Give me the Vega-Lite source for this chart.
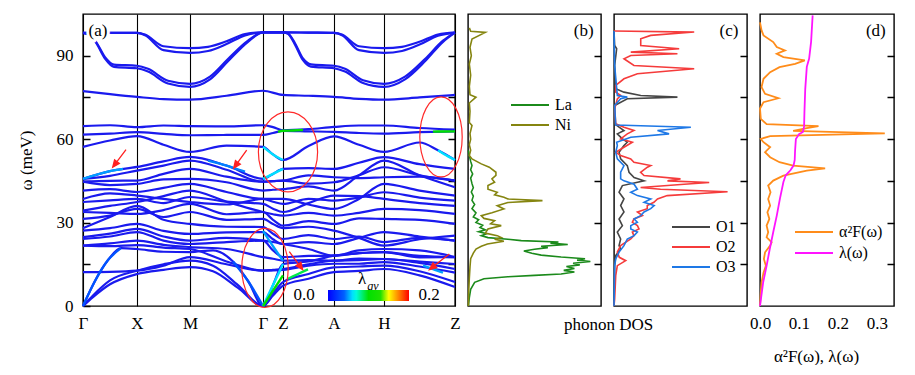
{
"$schema":"https://vega.github.io/schema/vega-lite/v6.json",
"padding":{"left":16,"top":11,"right":0,"bottom":0},
"spacing":13,
"bounds":"flush",
"config":{
"font":"Liberation Serif, DejaVu Serif, serif",
"view":{"stroke":"#000","strokeWidth":1.4},
"axis":{"labelFont":"Liberation Serif, DejaVu Serif, serif","titleFont":"Liberation Serif, DejaVu Serif, serif","labelColor":"#000","titleColor":"#000","tickColor":"#000","titleFontWeight":"normal","labelFontSize":17,"titleFontSize":17},
"legend":{"labelFont":"Liberation Serif, DejaVu Serif, serif","labelFontSize":16,"labelColor":"#000"},
"text":{"font":"Liberation Serif, DejaVu Serif, serif","color":"#000"}
},
"resolve":{"scale":{"color":"independent","shape":"independent"},"legend":{"color":"independent"}},
"datasets":{
"bands":[
{"b":"T1","k":0,"e":98.2},{"b":"T1","k":0.27,"e":98.2},{"b":"T1","k":0.54,"e":98.2},{"b":"T1","k":0.62,"e":97.6},{"b":"T1","k":0.805,"e":93.4},{"b":"T1","k":1.07,"e":92.7},{"b":"T1","k":1.25,"e":93.2},{"b":"T1","k":1.435,"e":95.2},{"b":"T1","k":1.62,"e":97.8},{"b":"T1","k":1.8,"e":98.4},{"b":"T1","k":2.0,"e":98.4},{"b":"T1","k":2.255,"e":98.3},{"b":"T1","k":2.51,"e":98.2},{"b":"T1","k":2.59,"e":97.6},{"b":"T1","k":2.76,"e":93.4},{"b":"T1","k":3.01,"e":92.7},{"b":"T1","k":3.19,"e":93.2},{"b":"T1","k":3.365,"e":95.0},{"b":"T1","k":3.55,"e":97.6},{"b":"T1","k":3.72,"e":98.4},
{"b":"T2","k":0,"e":98.2},{"b":"T2","k":0.27,"e":98.2},{"b":"T2","k":0.54,"e":98.2},{"b":"T2","k":0.62,"e":97.4},{"b":"T2","k":0.805,"e":92.0},{"b":"T2","k":1.07,"e":91.0},{"b":"T2","k":1.25,"e":91.7},{"b":"T2","k":1.435,"e":94.2},{"b":"T2","k":1.62,"e":97.3},{"b":"T2","k":1.8,"e":98.4},{"b":"T2","k":2.0,"e":98.4},{"b":"T2","k":2.255,"e":98.3},{"b":"T2","k":2.51,"e":98.2},{"b":"T2","k":2.59,"e":97.4},{"b":"T2","k":2.76,"e":92.0},{"b":"T2","k":3.01,"e":91.0},{"b":"T2","k":3.19,"e":91.7},{"b":"T2","k":3.365,"e":94.0},{"b":"T2","k":3.55,"e":97.2},{"b":"T2","k":3.72,"e":98.2},
{"b":"T3","k":0,"e":98.2},{"b":"T3","k":0.07,"e":97.3},{"b":"T3","k":0.13,"e":95.0},{"b":"T3","k":0.22,"e":89.5},{"b":"T3","k":0.31,"e":86.8},{"b":"T3","k":0.54,"e":86.4},{"b":"T3","k":0.65,"e":85.3},{"b":"T3","k":0.85,"e":81.0},{"b":"T3","k":1.07,"e":79.9},{"b":"T3","k":1.27,"e":82.5},{"b":"T3","k":1.45,"e":88.8},{"b":"T3","k":1.65,"e":95.4},{"b":"T3","k":1.8,"e":98.4},{"b":"T3","k":2.0,"e":98.4},{"b":"T3","k":2.05,"e":98.0},{"b":"T3","k":2.12,"e":94.5},{"b":"T3","k":2.2,"e":89.0},{"b":"T3","k":2.28,"e":86.9},{"b":"T3","k":2.51,"e":86.4},{"b":"T3","k":2.62,"e":85.3},{"b":"T3","k":2.8,"e":81.2},{"b":"T3","k":3.01,"e":79.9},{"b":"T3","k":3.22,"e":82.5},{"b":"T3","k":3.42,"e":88.8},{"b":"T3","k":3.6,"e":95.4},{"b":"T3","k":3.72,"e":98.4},
{"b":"T4","k":0,"e":98.2},{"b":"T4","k":0.07,"e":97.2},{"b":"T4","k":0.13,"e":94.7},{"b":"T4","k":0.22,"e":89.0},{"b":"T4","k":0.31,"e":86.0},{"b":"T4","k":0.54,"e":85.5},{"b":"T4","k":0.65,"e":84.3},{"b":"T4","k":0.85,"e":80.0},{"b":"T4","k":1.07,"e":78.8},{"b":"T4","k":1.27,"e":81.5},{"b":"T4","k":1.45,"e":88.0},{"b":"T4","k":1.65,"e":95.0},{"b":"T4","k":1.8,"e":98.4},{"b":"T4","k":2.0,"e":98.4},{"b":"T4","k":2.05,"e":97.9},{"b":"T4","k":2.12,"e":94.0},{"b":"T4","k":2.2,"e":88.4},{"b":"T4","k":2.28,"e":86.1},{"b":"T4","k":2.51,"e":85.5},{"b":"T4","k":2.62,"e":84.3},{"b":"T4","k":2.8,"e":80.2},{"b":"T4","k":3.01,"e":78.8},{"b":"T4","k":3.22,"e":81.5},{"b":"T4","k":3.42,"e":88.0},{"b":"T4","k":3.6,"e":95.0},{"b":"T4","k":3.72,"e":98.3},
{"b":"B77","k":0,"e":77.3},{"b":"B77","k":0.27,"e":76.2},{"b":"B77","k":0.54,"e":75.2},{"b":"B77","k":0.805,"e":74.4},{"b":"B77","k":1.07,"e":74.2},{"b":"B77","k":1.435,"e":75.6},{"b":"B77","k":1.8,"e":77.4},{"b":"B77","k":2.0,"e":75.9},{"b":"B77","k":2.255,"e":75.6},{"b":"B77","k":2.51,"e":75.2},{"b":"B77","k":2.76,"e":74.5},{"b":"B77","k":3.01,"e":74.2},{"b":"B77","k":3.365,"e":75.0},{"b":"B77","k":3.72,"e":75.9},
{"b":"C1","k":0,"e":64.7},{"b":"C1","k":0.27,"e":65.0},{"b":"C1","k":0.54,"e":64.3},{"b":"C1","k":0.805,"e":64.9},{"b":"C1","k":1.07,"e":64.7},{"b":"C1","k":1.435,"e":64.6},{"b":"C1","k":1.8,"e":65.0},{"b":"C1","k":1.9,"e":64.3},{"b":"C1","k":2.0,"e":63.2},{"b":"C1","k":2.255,"e":63.6},{"b":"C1","k":2.51,"e":64.4},{"b":"C1","k":2.76,"e":64.9},{"b":"C1","k":3.01,"e":64.9},{"b":"C1","k":3.365,"e":64.0},{"b":"C1","k":3.72,"e":63.4},
{"b":"C2","k":0,"e":61.6},{"b":"C2","k":0.27,"e":62.0},{"b":"C2","k":0.54,"e":62.5},{"b":"C2","k":0.805,"e":61.9},{"b":"C2","k":1.07,"e":61.4},{"b":"C2","k":1.435,"e":61.5},{"b":"C2","k":1.8,"e":61.5},{"b":"C2","k":1.9,"e":62.2},{"b":"C2","k":2.0,"e":63.0},{"b":"C2","k":2.255,"e":62.8},{"b":"C2","k":2.51,"e":62.6},{"b":"C2","k":2.76,"e":62.2},{"b":"C2","k":3.01,"e":62.0},{"b":"C2","k":3.365,"e":62.5},{"b":"C2","k":3.72,"e":62.8},
{"b":"C3","k":0,"e":57.2},{"b":"C3","k":0.27,"e":59.5},{"b":"C3","k":0.54,"e":61.1},{"b":"C3","k":0.805,"e":58.0},{"b":"C3","k":1.07,"e":55.4},{"b":"C3","k":1.435,"e":57.7},{"b":"C3","k":1.8,"e":57.2},{"b":"C3","k":1.9,"e":54.5},{"b":"C3","k":2.0,"e":52.5},{"b":"C3","k":2.255,"e":57.5},{"b":"C3","k":2.51,"e":61.0},{"b":"C3","k":2.76,"e":58.0},{"b":"C3","k":3.01,"e":55.4},{"b":"C3","k":3.365,"e":58.8},{"b":"C3","k":3.55,"e":56.0},{"b":"C3","k":3.72,"e":52.5},
{"b":"D1","k":0,"e":45.7},{"b":"D1","k":0.27,"e":48.5},{"b":"D1","k":0.54,"e":50.0},{"b":"D1","k":0.805,"e":52.0},{"b":"D1","k":1.07,"e":53.6},{"b":"D1","k":1.435,"e":50.5},{"b":"D1","k":1.8,"e":45.7},{"b":"D1","k":1.9,"e":47.5},{"b":"D1","k":2.0,"e":49.3},{"b":"D1","k":2.255,"e":49.6},{"b":"D1","k":2.51,"e":49.3},{"b":"D1","k":2.76,"e":51.5},{"b":"D1","k":3.01,"e":53.5},{"b":"D1","k":3.365,"e":51.0},{"b":"D1","k":3.72,"e":49.3},
{"b":"D2","k":0,"e":45.7},{"b":"D2","k":0.27,"e":46.8},{"b":"D2","k":0.54,"e":48.7},{"b":"D2","k":0.805,"e":50.5},{"b":"D2","k":1.07,"e":52.3},{"b":"D2","k":1.435,"e":49.0},{"b":"D2","k":1.8,"e":44.7},{"b":"D2","k":1.9,"e":44.9},{"b":"D2","k":2.0,"e":45.1},{"b":"D2","k":2.255,"e":47.0},{"b":"D2","k":2.51,"e":46.3},{"b":"D2","k":2.76,"e":46.0},{"b":"D2","k":3.01,"e":46.3},{"b":"D2","k":3.365,"e":46.5},{"b":"D2","k":3.72,"e":45.1},
{"b":"D3","k":0,"e":44.7},{"b":"D3","k":0.27,"e":45.0},{"b":"D3","k":0.54,"e":45.1},{"b":"D3","k":0.805,"e":47.5},{"b":"D3","k":1.07,"e":49.3},{"b":"D3","k":1.435,"e":46.5},{"b":"D3","k":1.8,"e":44.7},{"b":"D3","k":1.9,"e":44.9},{"b":"D3","k":2.0,"e":45.1},{"b":"D3","k":2.255,"e":44.0},{"b":"D3","k":2.51,"e":44.5},{"b":"D3","k":2.76,"e":47.0},{"b":"D3","k":3.01,"e":49.9},{"b":"D3","k":3.365,"e":47.0},{"b":"D3","k":3.72,"e":45.1},
{"b":"D4","k":0,"e":44.7},{"b":"D4","k":0.27,"e":43.5},{"b":"D4","k":0.54,"e":43.9},{"b":"D4","k":0.805,"e":45.5},{"b":"D4","k":1.07,"e":45.7},{"b":"D4","k":1.435,"e":44.5},{"b":"D4","k":1.8,"e":41.5},{"b":"D4","k":1.9,"e":41.8},{"b":"D4","k":2.0,"e":42.0},{"b":"D4","k":2.255,"e":43.0},{"b":"D4","k":2.51,"e":41.5},{"b":"D4","k":2.76,"e":47.0},{"b":"D4","k":3.01,"e":52.3},{"b":"D4","k":3.365,"e":47.0},{"b":"D4","k":3.72,"e":42.7},
{"b":"D5","k":0,"e":41.5},{"b":"D5","k":0.27,"e":42.0},{"b":"D5","k":0.54,"e":41.0},{"b":"D5","k":0.805,"e":42.5},{"b":"D5","k":1.07,"e":43.9},{"b":"D5","k":1.435,"e":41.0},{"b":"D5","k":1.8,"e":38.5},{"b":"D5","k":1.9,"e":38.5},{"b":"D5","k":2.0,"e":38.5},{"b":"D5","k":2.255,"e":36.5},{"b":"D5","k":2.51,"e":34.9},{"b":"D5","k":2.76,"e":38.5},{"b":"D5","k":3.01,"e":43.9},{"b":"D5","k":3.365,"e":41.5},{"b":"D5","k":3.72,"e":39.7},
{"b":"D6","k":0,"e":38.5},{"b":"D6","k":0.27,"e":40.5},{"b":"D6","k":0.54,"e":39.7},{"b":"D6","k":0.805,"e":38.5},{"b":"D6","k":1.07,"e":37.4},{"b":"D6","k":1.435,"e":36.5},{"b":"D6","k":1.8,"e":38.5},{"b":"D6","k":1.9,"e":37.5},{"b":"D6","k":2.0,"e":36.7},{"b":"D6","k":2.255,"e":38.5},{"b":"D6","k":2.51,"e":37.9},{"b":"D6","k":2.76,"e":39.0},{"b":"D6","k":3.01,"e":40.9},{"b":"D6","k":3.365,"e":39.0},{"b":"D6","k":3.72,"e":37.9},
{"b":"D7","k":0,"e":37.4},{"b":"D7","k":0.27,"e":38.0},{"b":"D7","k":0.54,"e":38.5},{"b":"D7","k":0.805,"e":37.0},{"b":"D7","k":1.07,"e":39.2},{"b":"D7","k":1.435,"e":37.5},{"b":"D7","k":1.8,"e":36.7},{"b":"D7","k":1.9,"e":35.0},{"b":"D7","k":2.0,"e":33.8},{"b":"D7","k":2.255,"e":37.0},{"b":"D7","k":2.51,"e":39.7},{"b":"D7","k":2.76,"e":39.5},{"b":"D7","k":3.01,"e":38.5},{"b":"D7","k":3.365,"e":37.0},{"b":"D7","k":3.72,"e":36.0},
{"b":"D8","k":0,"e":34.3},{"b":"D8","k":0.27,"e":36.0},{"b":"D8","k":0.54,"e":37.4},{"b":"D8","k":0.805,"e":39.5},{"b":"D8","k":1.07,"e":41.5},{"b":"D8","k":1.435,"e":37.5},{"b":"D8","k":1.8,"e":33.8},{"b":"D8","k":1.9,"e":33.0},{"b":"D8","k":2.0,"e":32.5},{"b":"D8","k":2.255,"e":33.5},{"b":"D8","k":2.51,"e":32.5},{"b":"D8","k":2.76,"e":33.5},{"b":"D8","k":3.01,"e":34.9},{"b":"D8","k":3.365,"e":34.5},{"b":"D8","k":3.72,"e":33.1},
{"b":"D9","k":0,"e":33.8},{"b":"D9","k":0.27,"e":33.5},{"b":"D9","k":0.54,"e":33.1},{"b":"D9","k":0.805,"e":34.5},{"b":"D9","k":1.07,"e":36.7},{"b":"D9","k":1.435,"e":33.0},{"b":"D9","k":1.8,"e":33.8},{"b":"D9","k":1.9,"e":31.0},{"b":"D9","k":2.0,"e":28.9},{"b":"D9","k":2.255,"e":30.5},{"b":"D9","k":2.51,"e":29.5},{"b":"D9","k":2.76,"e":31.5},{"b":"D9","k":3.01,"e":31.3},{"b":"D9","k":3.365,"e":31.0},{"b":"D9","k":3.72,"e":29.5},
{"b":"D10","k":0,"e":31.3},{"b":"D10","k":0.27,"e":32.5},{"b":"D10","k":0.54,"e":34.9},{"b":"D10","k":0.805,"e":32.0},{"b":"D10","k":1.07,"e":33.8},{"b":"D10","k":1.435,"e":31.0},{"b":"D10","k":1.8,"e":31.3},{"b":"D10","k":1.9,"e":29.5},{"b":"D10","k":2.0,"e":28.0},{"b":"D10","k":2.255,"e":28.5},{"b":"D10","k":2.51,"e":27.1},{"b":"D10","k":2.76,"e":24.5},{"b":"D10","k":3.01,"e":21.7},{"b":"D10","k":3.365,"e":24.0},{"b":"D10","k":3.72,"e":25.3},
{"b":"D11","k":0,"e":28.0},{"b":"D11","k":0.27,"e":32.0},{"b":"D11","k":0.54,"e":36.0},{"b":"D11","k":0.805,"e":31.0},{"b":"D11","k":1.07,"e":29.5},{"b":"D11","k":1.435,"e":28.5},{"b":"D11","k":1.8,"e":28.4},{"b":"D11","k":1.9,"e":26.0},{"b":"D11","k":2.0,"e":24.1},{"b":"D11","k":2.255,"e":25.5},{"b":"D11","k":2.51,"e":24.1},{"b":"D11","k":2.76,"e":25.0},{"b":"D11","k":3.01,"e":23.0},{"b":"D11","k":3.365,"e":24.5},{"b":"D11","k":3.72,"e":23.5},
{"b":"D12","k":0,"e":27.1},{"b":"D12","k":0.27,"e":28.0},{"b":"D12","k":0.54,"e":29.5},{"b":"D12","k":0.805,"e":27.0},{"b":"D12","k":1.07,"e":25.9},{"b":"D12","k":1.435,"e":26.5},{"b":"D12","k":1.8,"e":26.6},{"b":"D12","k":1.9,"e":24.0},{"b":"D12","k":2.0,"e":22.3},{"b":"D12","k":2.255,"e":23.0},{"b":"D12","k":2.51,"e":22.3},{"b":"D12","k":2.76,"e":24.5},{"b":"D12","k":3.01,"e":26.6},{"b":"D12","k":3.365,"e":25.0},{"b":"D12","k":3.72,"e":23.5},
{"b":"D13","k":0,"e":24.8},{"b":"D13","k":0.27,"e":26.0},{"b":"D13","k":0.54,"e":27.7},{"b":"D13","k":0.805,"e":25.0},{"b":"D13","k":1.07,"e":23.5},{"b":"D13","k":1.435,"e":24.5},{"b":"D13","k":1.8,"e":23.5},{"b":"D13","k":1.9,"e":23.0},{"b":"D13","k":2.0,"e":22.3},{"b":"D13","k":2.255,"e":20.5},{"b":"D13","k":2.51,"e":18.1},{"b":"D13","k":2.76,"e":20.0},{"b":"D13","k":3.01,"e":20.5},{"b":"D13","k":3.365,"e":20.0},{"b":"D13","k":3.72,"e":17.6},
{"b":"D14","k":0,"e":24.1},{"b":"D14","k":0.27,"e":25.0},{"b":"D14","k":0.54,"e":26.6},{"b":"D14","k":0.805,"e":23.5},{"b":"D14","k":1.07,"e":22.3},{"b":"D14","k":1.435,"e":23.0},{"b":"D14","k":1.8,"e":23.5},{"b":"D14","k":1.9,"e":20.0},{"b":"D14","k":2.0,"e":17.6},{"b":"D14","k":2.255,"e":18.0},{"b":"D14","k":2.51,"e":18.1},{"b":"D14","k":2.76,"e":19.0},{"b":"D14","k":3.01,"e":19.4},{"b":"D14","k":3.365,"e":18.0},{"b":"D14","k":3.72,"e":17.6},
{"b":"D15","k":0,"e":21.7},{"b":"D15","k":0.27,"e":22.5},{"b":"D15","k":0.54,"e":23.5},{"b":"D15","k":0.805,"e":22.0},{"b":"D15","k":1.07,"e":21.2},{"b":"D15","k":1.435,"e":20.5},{"b":"D15","k":1.8,"e":17.6},{"b":"D15","k":1.9,"e":17.0},{"b":"D15","k":2.0,"e":16.3},{"b":"D15","k":2.255,"e":16.5},{"b":"D15","k":2.51,"e":16.3},{"b":"D15","k":2.76,"e":17.0},{"b":"D15","k":3.01,"e":16.9},{"b":"D15","k":3.365,"e":16.0},{"b":"D15","k":3.72,"e":15.1},
{"b":"D16","k":0,"e":21.7},{"b":"D16","k":0.27,"e":21.5},{"b":"D16","k":0.54,"e":21.9},{"b":"D16","k":0.805,"e":21.0},{"b":"D16","k":1.07,"e":20.5},{"b":"D16","k":1.435,"e":16.0},{"b":"D16","k":1.8,"e":12.7},{"b":"D16","k":1.9,"e":13.0},{"b":"D16","k":2.0,"e":13.3},{"b":"D16","k":2.255,"e":15.0},{"b":"D16","k":2.51,"e":16.3},{"b":"D16","k":2.76,"e":16.5},{"b":"D16","k":3.01,"e":16.9},{"b":"D16","k":3.365,"e":15.5},{"b":"D16","k":3.72,"e":13.3},
{"b":"D17","k":0,"e":12.2},{"b":"D17","k":0.27,"e":12.3},{"b":"D17","k":0.54,"e":12.7},{"b":"D17","k":0.805,"e":14.5},{"b":"D17","k":1.07,"e":17.6},{"b":"D17","k":1.435,"e":15.0},{"b":"D17","k":1.8,"e":12.7},{"b":"D17","k":1.9,"e":12.8},{"b":"D17","k":2.0,"e":13.0},{"b":"D17","k":2.255,"e":14.5},{"b":"D17","k":2.51,"e":15.2},{"b":"D17","k":2.76,"e":15.2},{"b":"D17","k":3.01,"e":15.8},{"b":"D17","k":3.365,"e":14.2},{"b":"D17","k":3.72,"e":12.0},
{"b":"A1","k":0,"e":0},{"b":"A1","k":0.1,"e":3.2},{"b":"A1","k":0.27,"e":7.8},{"b":"A1","k":0.54,"e":11.5},{"b":"A1","k":0.805,"e":13.0},{"b":"A1","k":1.07,"e":14.0},{"b":"A1","k":1.3,"e":12.5},{"b":"A1","k":1.55,"e":6.5},{"b":"A1","k":1.8,"e":0},{"b":"A1","k":1.9,"e":3.8},{"b":"A1","k":2.0,"e":7.3},{"b":"A1","k":2.255,"e":9.8},{"b":"A1","k":2.51,"e":12.2},{"b":"A1","k":2.76,"e":12.6},{"b":"A1","k":3.01,"e":13.3},{"b":"A1","k":3.365,"e":11.0},{"b":"A1","k":3.72,"e":6.8},
{"b":"A2","k":0,"e":0},{"b":"A2","k":0.1,"e":3.8},{"b":"A2","k":0.27,"e":9.2},{"b":"A2","k":0.54,"e":12.7},{"b":"A2","k":0.805,"e":15.0},{"b":"A2","k":1.07,"e":16.3},{"b":"A2","k":1.3,"e":14.5},{"b":"A2","k":1.55,"e":7.5},{"b":"A2","k":1.8,"e":0},{"b":"A2","k":1.9,"e":4.5},{"b":"A2","k":2.0,"e":8.6},{"b":"A2","k":2.255,"e":11.5},{"b":"A2","k":2.51,"e":13.9},{"b":"A2","k":2.76,"e":14.2},{"b":"A2","k":3.01,"e":14.5},{"b":"A2","k":3.365,"e":12.5},{"b":"A2","k":3.72,"e":8.6},
{"b":"A3","k":0,"e":0},{"b":"A3","k":0.12,"e":9},{"b":"A3","k":0.25,"e":16.5},{"b":"A3","k":0.38,"e":20.8},{"b":"A3","k":0.54,"e":20.5},{"b":"A3","k":0.805,"e":19.5},{"b":"A3","k":1.07,"e":19.4},{"b":"A3","k":1.3,"e":20.0},{"b":"A3","k":1.5,"e":16.0},{"b":"A3","k":1.65,"e":9.0},{"b":"A3","k":1.8,"e":0},{"b":"A3","k":1.9,"e":7.5},{"b":"A3","k":2.0,"e":15.1},{"b":"A3","k":2.255,"e":16.0},{"b":"A3","k":2.51,"e":18.1},{"b":"A3","k":2.76,"e":19.0},{"b":"A3","k":3.01,"e":19.4},{"b":"A3","k":3.365,"e":17.5},{"b":"A3","k":3.72,"e":17.6}
],
"hl":[
{"b":"h1","l":0.035,"k":0,"e":0},{"b":"h1","l":0.035,"k":0.12,"e":9},{"b":"h1","l":0.035,"k":0.25,"e":16.5},{"b":"h1","l":0.035,"k":0.38,"e":20.8},
{"b":"h2","l":0.05,"k":0,"e":45.7},{"b":"h2","l":0.05,"k":0.27,"e":48.5},{"b":"h2","l":0.05,"k":0.4,"e":49.3},
{"b":"h3","l":0.045,"k":1.25,"e":52.3},{"b":"h3","l":0.045,"k":1.435,"e":50.5},{"b":"h3","l":0.045,"k":1.62,"e":48.3},
{"b":"h4","l":0.035,"k":1.5,"e":16.0},{"b":"h4","l":0.035,"k":1.65,"e":9.0},{"b":"h4","l":0.035,"k":1.8,"e":0},
{"b":"h5","l":0.06,"k":1.8,"e":0},{"b":"h5","l":0.06,"k":1.9,"e":7.5},{"b":"h5","l":0.06,"k":2.0,"e":15.1},
{"b":"h6","l":0.1,"k":1.8,"e":0},{"b":"h6","l":0.1,"k":1.9,"e":5.5},{"b":"h6","l":0.1,"k":2.0,"e":11.0},
{"b":"h7","l":0.09,"k":2.05,"e":9.8},{"b":"h7","l":0.09,"k":2.15,"e":11.5},{"b":"h7","l":0.09,"k":2.25,"e":13.2},
{"b":"h8","l":0.05,"k":1.8,"e":27.0},{"b":"h8","l":0.05,"k":1.9,"e":21.5},{"b":"h8","l":0.05,"k":2.0,"e":16.3},
{"b":"h9","l":0.06,"k":1.8,"e":57.2},{"b":"h9","l":0.06,"k":1.9,"e":54.5},{"b":"h9","l":0.06,"k":2.0,"e":52.5},
{"b":"h10","l":0.1,"k":1.95,"e":62.6},{"b":"h10","l":0.1,"k":2.0,"e":63.0},{"b":"h10","l":0.1,"k":2.1,"e":63.1},{"b":"h10","l":0.1,"k":2.2,"e":63.3},
{"b":"h11","l":0.06,"k":1.8,"e":45.7},{"b":"h11","l":0.06,"k":1.9,"e":47.5},{"b":"h11","l":0.06,"k":2.0,"e":49.3},
{"b":"h12","l":0.1,"k":3.5,"e":62.7},{"b":"h12","l":0.1,"k":3.6,"e":62.75},{"b":"h12","l":0.1,"k":3.72,"e":62.8},
{"b":"h13","l":0.06,"k":3.55,"e":56.0},{"b":"h13","l":0.06,"k":3.65,"e":53.8},{"b":"h13","l":0.06,"k":3.72,"e":52.5},
{"b":"h14","l":0.05,"k":3.4,"e":14.5},{"b":"h14","l":0.05,"k":3.5,"e":13.3},{"b":"h14","l":0.05,"k":3.6,"e":12.0}
],
"dosb":[
{"s":"La","v":0.003,"e":0},{"s":"La","v":0.01,"e":3},{"s":"La","v":0.02,"e":6},{"s":"La","v":0.05,"e":8.5},{"s":"La","v":0.12,"e":9.8},{"s":"La","v":0.3,"e":10.5},{"s":"La","v":0.5,"e":11.0},{"s":"La","v":0.7,"e":11.5},{"s":"La","v":0.8,"e":12.2},{"s":"La","v":0.72,"e":12.8},{"s":"La","v":0.8,"e":13.5},{"s":"La","v":0.74,"e":14.2},{"s":"La","v":0.84,"e":14.8},{"s":"La","v":0.79,"e":15.4},{"s":"La","v":0.92,"e":16.0},{"s":"La","v":0.82,"e":16.5},{"s":"La","v":0.88,"e":17.0},{"s":"La","v":0.7,"e":17.6},{"s":"La","v":0.55,"e":18.3},{"s":"La","v":0.48,"e":19.0},{"s":"La","v":0.42,"e":19.8},{"s":"La","v":0.5,"e":20.4},{"s":"La","v":0.6,"e":21.0},{"s":"La","v":0.55,"e":21.5},{"s":"La","v":0.75,"e":22.1},{"s":"La","v":0.62,"e":22.6},{"s":"La","v":0.68,"e":23.0},{"s":"La","v":0.4,"e":23.5},{"s":"La","v":0.3,"e":24.0},{"s":"La","v":0.15,"e":24.6},{"s":"La","v":0.1,"e":25.3},{"s":"La","v":0.14,"e":26.0},{"s":"La","v":0.08,"e":26.7},{"s":"La","v":0.13,"e":27.4},{"s":"La","v":0.09,"e":28.2},{"s":"La","v":0.11,"e":29.0},{"s":"La","v":0.06,"e":30.0},{"s":"La","v":0.08,"e":31.0},{"s":"La","v":0.04,"e":32.0},{"s":"La","v":0.06,"e":33.5},{"s":"La","v":0.03,"e":35},{"s":"La","v":0.05,"e":36.5},{"s":"La","v":0.03,"e":38},{"s":"La","v":0.04,"e":39.5},{"s":"La","v":0.025,"e":41},{"s":"La","v":0.04,"e":42.5},{"s":"La","v":0.03,"e":44},{"s":"La","v":0.02,"e":46},{"s":"La","v":0.035,"e":47.5},{"s":"La","v":0.02,"e":49},{"s":"La","v":0.03,"e":50.5},{"s":"La","v":0.02,"e":52},{"s":"La","v":0.01,"e":54},{"s":"La","v":0.003,"e":56},
{"s":"Ni","v":0.003,"e":0},{"s":"Ni","v":0.005,"e":5},{"s":"Ni","v":0.01,"e":10},{"s":"Ni","v":0.015,"e":14},{"s":"Ni","v":0.02,"e":17},{"s":"Ni","v":0.04,"e":19},{"s":"Ni","v":0.06,"e":20.5},{"s":"Ni","v":0.1,"e":21.5},{"s":"Ni","v":0.146,"e":22.3},{"s":"Ni","v":0.27,"e":23.3},{"s":"Ni","v":0.2,"e":24.0},{"s":"Ni","v":0.25,"e":24.6},{"s":"Ni","v":0.22,"e":25.3},{"s":"Ni","v":0.13,"e":26.2},{"s":"Ni","v":0.15,"e":27.7},{"s":"Ni","v":0.25,"e":28.9},{"s":"Ni","v":0.17,"e":29.6},{"s":"Ni","v":0.2,"e":30.7},{"s":"Ni","v":0.12,"e":31.5},{"s":"Ni","v":0.1,"e":32.5},{"s":"Ni","v":0.18,"e":33.5},{"s":"Ni","v":0.27,"e":34.9},{"s":"Ni","v":0.22,"e":36.1},{"s":"Ni","v":0.3,"e":37.2},{"s":"Ni","v":0.56,"e":37.9},{"s":"Ni","v":0.3,"e":38.5},{"s":"Ni","v":0.27,"e":39.1},{"s":"Ni","v":0.2,"e":40.0},{"s":"Ni","v":0.22,"e":40.9},{"s":"Ni","v":0.15,"e":42},{"s":"Ni","v":0.15,"e":43.3},{"s":"Ni","v":0.2,"e":44.5},{"s":"Ni","v":0.18,"e":45.7},{"s":"Ni","v":0.21,"e":47},{"s":"Ni","v":0.21,"e":48.1},{"s":"Ni","v":0.16,"e":49.9},{"s":"Ni","v":0.1,"e":51.1},{"s":"Ni","v":0.03,"e":52.9},{"s":"Ni","v":0.01,"e":54.1},{"s":"Ni","v":0.02,"e":56},{"s":"Ni","v":0.01,"e":58},{"s":"Ni","v":0.02,"e":60},{"s":"Ni","v":0.015,"e":62},{"s":"Ni","v":0.03,"e":64.9},{"s":"Ni","v":0.01,"e":66},{"s":"Ni","v":0.015,"e":70},{"s":"Ni","v":0.01,"e":73},{"s":"Ni","v":0.06,"e":75.1},{"s":"Ni","v":0.015,"e":76},{"s":"Ni","v":0.01,"e":79},{"s":"Ni","v":0.02,"e":83},{"s":"Ni","v":0.01,"e":87},{"s":"Ni","v":0.025,"e":90},{"s":"Ni","v":0.015,"e":93},{"s":"Ni","v":0.03,"e":96},{"s":"Ni","v":0.13,"e":98.4},{"s":"Ni","v":0.02,"e":98.8},{"s":"Ni","v":0.01,"e":100}
],
"dosc":[
{"s":"O1","v":0,"e":0},{"s":"O1","v":0.005,"e":14.5},{"s":"O1","v":0.013,"e":18.1},{"s":"O1","v":0.05,"e":20.5},{"s":"O1","v":0.038,"e":21.7},{"s":"O1","v":0.05,"e":24.1},{"s":"O1","v":0.025,"e":26.6},{"s":"O1","v":0.063,"e":28.9},{"s":"O1","v":0.038,"e":31.3},{"s":"O1","v":0.075,"e":33.8},{"s":"O1","v":0.05,"e":36.1},{"s":"O1","v":0.075,"e":38.5},{"s":"O1","v":0.038,"e":40.9},{"s":"O1","v":0.063,"e":43.3},{"s":"O1","v":0.226,"e":45.0},{"s":"O1","v":0.151,"e":46.2},{"s":"O1","v":0.113,"e":48.1},{"s":"O1","v":0.1,"e":50.5},{"s":"O1","v":0.05,"e":52.9},{"s":"O1","v":0.038,"e":55.3},{"s":"O1","v":0.075,"e":57.7},{"s":"O1","v":0.1,"e":58.9},{"s":"O1","v":0.063,"e":60.1},{"s":"O1","v":0.025,"e":61.9},{"s":"O1","v":0.075,"e":63.1},{"s":"O1","v":0.038,"e":64.3},{"s":"O1","v":0.005,"e":65.5},{"s":"O1","v":0.005,"e":72.1},{"s":"O1","v":0.1,"e":74.5},{"s":"O1","v":0.477,"e":75.1},{"s":"O1","v":0.201,"e":75.7},{"s":"O1","v":0.075,"e":76.9},{"s":"O1","v":0.013,"e":78.1},{"s":"O1","v":0.005,"e":86.5},{"s":"O1","v":0.02,"e":92.5},{"s":"O1","v":0.005,"e":93.7},{"s":"O1","v":0,"e":98.9},
{"s":"O2","v":0,"e":0},{"s":"O2","v":0.005,"e":2.5},{"s":"O2","v":0.013,"e":10.9},{"s":"O2","v":0.025,"e":14.5},{"s":"O2","v":0.088,"e":16.3},{"s":"O2","v":0.04,"e":17.5},{"s":"O2","v":0.025,"e":19.4},{"s":"O2","v":0.05,"e":21.7},{"s":"O2","v":0.126,"e":24.1},{"s":"O2","v":0.15,"e":25.3},{"s":"O2","v":0.138,"e":26.6},{"s":"O2","v":0.188,"e":27.7},{"s":"O2","v":0.176,"e":28.9},{"s":"O2","v":0.138,"e":30.1},{"s":"O2","v":0.15,"e":31.3},{"s":"O2","v":0.214,"e":32.5},{"s":"O2","v":0.176,"e":33.8},{"s":"O2","v":0.25,"e":35.0},{"s":"O2","v":0.25,"e":36.1},{"s":"O2","v":0.3,"e":37.3},{"s":"O2","v":0.327,"e":38.5},{"s":"O2","v":0.4,"e":39.7},{"s":"O2","v":0.854,"e":41.1},{"s":"O2","v":0.35,"e":42.0},{"s":"O2","v":0.2,"e":42.6},{"s":"O2","v":0.528,"e":43.8},{"s":"O2","v":0.716,"e":44.4},{"s":"O2","v":0.402,"e":45.0},{"s":"O2","v":0.5,"e":45.7},{"s":"O2","v":0.226,"e":46.9},{"s":"O2","v":0.2,"e":48.1},{"s":"O2","v":0.251,"e":49.9},{"s":"O2","v":0.276,"e":50.5},{"s":"O2","v":0.15,"e":51.7},{"s":"O2","v":0.126,"e":52.9},{"s":"O2","v":0.05,"e":54.1},{"s":"O2","v":0.013,"e":55.3},{"s":"O2","v":0.075,"e":57.1},{"s":"O2","v":0.138,"e":58.9},{"s":"O2","v":0.05,"e":60.1},{"s":"O2","v":0.1,"e":61.9},{"s":"O2","v":0.15,"e":63.1},{"s":"O2","v":0.075,"e":64.3},{"s":"O2","v":0.013,"e":65.5},{"s":"O2","v":0.005,"e":70.9},{"s":"O2","v":0.025,"e":74.5},{"s":"O2","v":0.05,"e":75.7},{"s":"O2","v":0.013,"e":76.9},{"s":"O2","v":0.013,"e":79.3},{"s":"O2","v":0.075,"e":81.7},{"s":"O2","v":0.176,"e":83.5},{"s":"O2","v":0.603,"e":85.3},{"s":"O2","v":0.15,"e":86.5},{"s":"O2","v":0.075,"e":88.9},{"s":"O2","v":0.126,"e":90.1},{"s":"O2","v":0.477,"e":90.7},{"s":"O2","v":0.126,"e":91.3},{"s":"O2","v":0.49,"e":92.5},{"s":"O2","v":0.201,"e":93.7},{"s":"O2","v":0.201,"e":96.1},{"s":"O2","v":0.276,"e":97.3},{"s":"O2","v":0.603,"e":98.5},{"s":"O2","v":0,"e":98.9},
{"s":"O3","v":0,"e":0},{"s":"O3","v":0.005,"e":14.5},{"s":"O3","v":0.013,"e":16.9},{"s":"O3","v":0.038,"e":19.4},{"s":"O3","v":0.075,"e":21.7},{"s":"O3","v":0.1,"e":24.1},{"s":"O3","v":0.151,"e":25.3},{"s":"O3","v":0.176,"e":26.6},{"s":"O3","v":0.126,"e":27.7},{"s":"O3","v":0.126,"e":28.9},{"s":"O3","v":0.176,"e":30.1},{"s":"O3","v":0.151,"e":31.3},{"s":"O3","v":0.201,"e":32.5},{"s":"O3","v":0.226,"e":33.8},{"s":"O3","v":0.276,"e":35.0},{"s":"O3","v":0.302,"e":36.1},{"s":"O3","v":0.226,"e":37.3},{"s":"O3","v":0.276,"e":38.5},{"s":"O3","v":0.176,"e":39.7},{"s":"O3","v":0.126,"e":40.9},{"s":"O3","v":0.176,"e":42.0},{"s":"O3","v":0.151,"e":43.8},{"s":"O3","v":0.075,"e":45.0},{"s":"O3","v":0.05,"e":45.7},{"s":"O3","v":0.05,"e":48.1},{"s":"O3","v":0.075,"e":50.5},{"s":"O3","v":0.025,"e":52.9},{"s":"O3","v":0.013,"e":55.3},{"s":"O3","v":0.025,"e":57.7},{"s":"O3","v":0.02,"e":58.9},{"s":"O3","v":0.126,"e":60.7},{"s":"O3","v":0.414,"e":61.9},{"s":"O3","v":0.327,"e":63.1},{"s":"O3","v":0.578,"e":64.3},{"s":"O3","v":0.013,"e":65.1},{"s":"O3","v":0.005,"e":72.1},{"s":"O3","v":0.05,"e":74.5},{"s":"O3","v":0.1,"e":75.1},{"s":"O3","v":0.025,"e":75.7},{"s":"O3","v":0.005,"e":86.5},{"s":"O3","v":0,"e":98.9}
],
"eli":[
{"s":"α²F(ω)","v":0,"e":0},{"s":"α²F(ω)","v":0.002,"e":4.8},{"s":"α²F(ω)","v":0.004,"e":8.4},{"s":"α²F(ω)","v":0.009,"e":12},{"s":"α²F(ω)","v":0.015,"e":14.5},{"s":"α²F(ω)","v":0.01,"e":16.9},{"s":"α²F(ω)","v":0.013,"e":19.3},{"s":"α²F(ω)","v":0.026,"e":21.7},{"s":"α²F(ω)","v":0.03,"e":22.9},{"s":"α²F(ω)","v":0.017,"e":24.7},{"s":"α²F(ω)","v":0.021,"e":26.5},{"s":"α²F(ω)","v":0.017,"e":28.9},{"s":"α²F(ω)","v":0.024,"e":31.3},{"s":"α²F(ω)","v":0.019,"e":33.7},{"s":"α²F(ω)","v":0.026,"e":36.1},{"s":"α²F(ω)","v":0.021,"e":38.5},{"s":"α²F(ω)","v":0.027,"e":40.9},{"s":"α²F(ω)","v":0.021,"e":43.3},{"s":"α²F(ω)","v":0.034,"e":45.1},{"s":"α²F(ω)","v":0.06,"e":46.9},{"s":"α²F(ω)","v":0.12,"e":48.7},{"s":"α²F(ω)","v":0.167,"e":49.5},{"s":"α²F(ω)","v":0.085,"e":50.5},{"s":"α²F(ω)","v":0.05,"e":51.7},{"s":"α²F(ω)","v":0.026,"e":53.5},{"s":"α²F(ω)","v":0.013,"e":55.3},{"s":"α²F(ω)","v":0.026,"e":57.1},{"s":"α²F(ω)","v":0.009,"e":58.9},{"s":"α²F(ω)","v":0.002,"e":60.1},{"s":"α²F(ω)","v":0.026,"e":61.1},{"s":"α²F(ω)","v":0.32,"e":62.1},{"s":"α²F(ω)","v":0.085,"e":63.0},{"s":"α²F(ω)","v":0.12,"e":64.0},{"s":"α²F(ω)","v":0.15,"e":64.7},{"s":"α²F(ω)","v":0.017,"e":65.4},{"s":"α²F(ω)","v":0.002,"e":67.3},{"s":"α²F(ω)","v":0,"e":71},{"s":"α²F(ω)","v":0.009,"e":73.3},{"s":"α²F(ω)","v":0.047,"e":74.7},{"s":"α²F(ω)","v":0.013,"e":76.3},{"s":"α²F(ω)","v":0.004,"e":78.7},{"s":"α²F(ω)","v":0.009,"e":81.7},{"s":"α²F(ω)","v":0.026,"e":84.1},{"s":"α²F(ω)","v":0.05,"e":85.9},{"s":"α²F(ω)","v":0.09,"e":87.1},{"s":"α²F(ω)","v":0.115,"e":88.3},{"s":"α²F(ω)","v":0.06,"e":89.5},{"s":"α²F(ω)","v":0.043,"e":90.7},{"s":"α²F(ω)","v":0.064,"e":91.9},{"s":"α²F(ω)","v":0.043,"e":93.1},{"s":"α²F(ω)","v":0.034,"e":94.9},{"s":"α²F(ω)","v":0.009,"e":97.3},{"s":"α²F(ω)","v":0.004,"e":99.1},{"s":"α²F(ω)","v":0,"e":102},
{"s":"λ(ω)","v":0,"e":0},{"s":"λ(ω)","v":0.008,"e":8.4},{"s":"λ(ω)","v":0.017,"e":14.5},{"s":"λ(ω)","v":0.025,"e":20.5},{"s":"λ(ω)","v":0.034,"e":26.6},{"s":"λ(ω)","v":0.043,"e":32.5},{"s":"λ(ω)","v":0.051,"e":38.5},{"s":"λ(ω)","v":0.06,"e":44.6},{"s":"λ(ω)","v":0.066,"e":47},{"s":"λ(ω)","v":0.078,"e":48.8},{"s":"λ(ω)","v":0.086,"e":50.5},{"s":"λ(ω)","v":0.089,"e":52.5},{"s":"λ(ω)","v":0.09,"e":56},{"s":"λ(ω)","v":0.092,"e":60},{"s":"λ(ω)","v":0.1,"e":61.8},{"s":"λ(ω)","v":0.11,"e":62.6},{"s":"λ(ω)","v":0.113,"e":64.5},{"s":"λ(ω)","v":0.114,"e":70},{"s":"λ(ω)","v":0.116,"e":78},{"s":"λ(ω)","v":0.12,"e":86},{"s":"λ(ω)","v":0.126,"e":89},{"s":"λ(ω)","v":0.131,"e":95},{"s":"λ(ω)","v":0.135,"e":104.5}
]
},
"hconcat":[
{
"width":372,"height":292,
"encoding":{
"x":{"field":"k","type":"quantitative","scale":{"domain":[0,3.72],"nice":false,"zero":false},"axis":{"values":[0,0.54,1.07,1.8,2.0,2.51,3.01,3.72],"labelExpr":"datum.value < 0.3 ? 'Γ' : datum.value < 0.8 ? 'X' : datum.value < 1.5 ? 'M' : datum.value < 1.9 ? 'Γ' : datum.value < 2.3 ? 'Z' : datum.value < 2.8 ? 'A' : datum.value < 3.3 ? 'H' : 'Z'","grid":true,"gridColor":"#000","gridWidth":1.1,"gridOpacity":1,"ticks":false,"domain":false,"labelPadding":9,"title":null,"labelFlush":false,"labelOverlap":false}},
"y":{"field":"e","type":"quantitative","scale":{"domain":[0,105],"nice":false},"axis":null}
},
"resolve":{"axis":{"y":"independent"},"scale":{"shape":"independent"}},
"layer":[
{"data":{"name":"bands"},"mark":{"type":"line","interpolate":"monotone","color":"#1a1aee","strokeWidth":2.2},
"encoding":{"detail":{"field":"b"},
"y":{"field":"e","type":"quantitative","scale":{"domain":[0,105],"nice":false},"axis":{"values":[0,15,30,45,60,75,90],"labelExpr":"datum.value % 30 === 0 ? datum.label : ''","tickSize":-7,"tickWidth":1.5,"labelPadding":17,"domain":false,"grid":false,"title":"ω (meV)","titleX":-57,"titleY":146,"titleAngle":-90,"titleAlign":"center","titleBaseline":"middle"}}}},
{"data":{"name":"hl"},"mark":{"type":"line","interpolate":"monotone","strokeWidth":2.4},
"encoding":{"detail":{"field":"b"},
"color":{"field":"l","type":"quantitative","scale":{"domain":[0,0.04,0.065,0.1,0.13,0.15,0.175,0.2],"range":["#0000ff","#0060ff","#00ffff","#00e000","#20e000","#ffff00","#ff8000","#ff0000"],"interpolate":"rgb"},
"legend":{"orient":"none","legendX":245,"legendY":276,"direction":"horizontal","gradientLength":81,"gradientThickness":11,"title":null,"labelExpr":"''","gradientStrokeWidth":0,"padding":0}}}},
{"data":{"values":[{"id":"e1","k":2.05,"e":55.4},{"id":"e2","k":3.58,"e":60.8},{"id":"e3","k":1.82,"e":13.7}]},
"mark":{"type":"point","filled":false,"size":6400,"color":"#ff2a2a","stroke":"#ff2a2a","strokeWidth":1.2,"opacity":1},
"encoding":{"shape":{"field":"id","type":"nominal","legend":null,"scale":{"domain":["e1","e2","e3"],"range":["M0.74,0C0.74,0.552,0.409,1,0,1C-0.409,1,-0.74,0.552,-0.74,0C-0.74,-0.552,-0.409,-1,0,-1C0.409,-1,0.74,-0.552,0.74,0Z","M0.53,0C0.53,0.552,0.293,1,0,1C-0.293,1,-0.53,0.552,-0.53,0C-0.53,-0.552,-0.293,-1,0,-1C0.293,-1,0.53,-0.552,0.53,0Z","M0.58,0C0.58,0.547,0.32,0.99,0,0.99C-0.32,0.99,-0.58,0.547,-0.58,0C-0.58,-0.547,-0.32,-0.99,0,-0.99C0.32,-0.99,0.58,-0.547,0.58,0Z"]}},
"y":{"field":"e","type":"quantitative","scale":{"domain":[0,105],"nice":false},"axis":{"orient":"right","values":[15,30,45,60,75,90],"tickSize":-7,"tickWidth":1.5,"labels":false,"domain":false,"grid":false,"title":null}}}},
{"data":{"values":[{"id":"a1","k":0.297,"e":49.9},{"id":"a2","k":1.507,"e":49.6},{"id":"a3","k":2.197,"e":13.06},{"id":"a4","k":3.463,"e":13.06}]},
"mark":{"type":"point","filled":true,"size":484,"color":"#ff2020","stroke":"#ff2020","strokeWidth":1.3,"opacity":1},
"encoding":{"shape":{"field":"id","type":"nominal","legend":null,"scale":{"domain":["a1","a2","a3","a4"],"range":["M1.21,-1.6L0.387,-0.512M0.603,-0.349L0,0L0.171,-0.675Z","M1.18,-1.64L0.38,-0.52M0.6,-0.36L0,0L0.16,-0.68Z","M-1.22,-1.64L-0.383,-0.514M-0.6,-0.353L0,0L-0.166,-0.675Z","M1.82,-1.43L0.504,-0.396M0.671,-0.184L0,0L0.337,-0.608Z"]}}}},
{"data":{"values":[{"t":"(a)","k":0.15,"e":98.9}]},"mark":{"type":"text","fontSize":17,"stroke":"#fff","strokeWidth":6,"strokeJoin":"round","color":"#fff"},"encoding":{"text":{"field":"t"}}},
{"data":{"values":[{"t":"(a)","k":0.15,"e":98.9}]},"mark":{"type":"text","fontSize":17},"encoding":{"text":{"field":"t"}}},
{"data":{"values":[{"t":"0.0","k":2.21,"e":4.0},{"t":"0.2","k":3.46,"e":4.0}]},"mark":{"type":"text","fontSize":17},"encoding":{"text":{"field":"t"}}},
{"data":{"values":[{"t":"λ","k":2.79,"e":9.6}]},"mark":{"type":"text","fontSize":17},"encoding":{"text":{"field":"t"}}},
{"data":{"values":[{"t":"qν","k":2.9,"e":7.3}]},"mark":{"type":"text","fontSize":12,"fontStyle":"italic"},"encoding":{"text":{"field":"t"}}}
]
},
{
"width":133,"height":292,
"encoding":{
"x":{"field":"v","type":"quantitative","scale":{"domain":[0,1],"nice":false},"axis":{"title":"phonon DOS","labels":false,"ticks":false,"domain":false,"grid":false,"titleX":140,"titleY":18,"titleBaseline":"middle","titleAlign":"center"}},
"y":{"field":"e","type":"quantitative","scale":{"domain":[0,105],"nice":false},"axis":{"orient":"right","values":[15,30,45,60,75,90],"tickSize":-7,"tickWidth":1.5,"labels":false,"domain":false,"grid":false,"title":null}}
},
"layer":[
{"data":{"name":"dosb"},"mark":{"type":"line","strokeWidth":1.6},
"encoding":{"color":{"field":"s","type":"nominal","scale":{"domain":["La","Ni"],"range":["#1b8a1b","#858510"]},"legend":{"title":null,"orient":"none","legendX":54,"legendY":83,"symbolType":"M-3.8,0L3.8,0","symbolSize":100,"symbolStrokeWidth":2,"labelOffset":17,"rowPadding":4,"padding":0}},
"order":{"field":"e","type":"quantitative"}}},
{"data":{"values":[{"t":"(b)","v":0.87,"e":98.9}]},"mark":{"type":"text","fontSize":17},"encoding":{"text":{"field":"t"}}}
]
},
{
"width":133,"height":292,
"encoding":{
"x":{"field":"v","type":"quantitative","scale":{"domain":[0,1],"nice":false},"axis":null},
"y":{"field":"e","type":"quantitative","scale":{"domain":[0,105],"nice":false},"axis":{"orient":"right","values":[15,30,45,60,75,90],"tickSize":-7,"tickWidth":1.5,"labels":false,"domain":false,"grid":false,"title":null}}
},
"layer":[
{"data":{"name":"dosc"},"mark":{"type":"line","strokeWidth":1.6},
"encoding":{"color":{"field":"s","type":"nominal","scale":{"domain":["O1","O2","O3"],"range":["#454545","#f53b3b","#1e78e6"]},"legend":{"title":null,"orient":"none","legendX":69,"legendY":205,"symbolType":"M-3.8,0L3.8,0","symbolSize":100,"symbolStrokeWidth":2,"labelOffset":17,"rowPadding":4,"padding":0}},
"order":{"field":"e","type":"quantitative"}}},
{"data":{"values":[{"t":"(c)","v":0.865,"e":98.9}]},"mark":{"type":"text","fontSize":17},"encoding":{"text":{"field":"t"}}}
]
},
{
"width":134,"height":292,
"encoding":{
"x":{"field":"v","type":"quantitative","scale":{"domain":[0,0.3436],"nice":false},"axis":{"values":[0,0.1,0.2,0.3],"format":".1f","ticks":false,"domain":false,"grid":false,"labelPadding":9,"labelFlush":false,"title":"α²F(ω), λ(ω)","titleX":56,"titleY":50,"titleBaseline":"middle","titleAlign":"center"}},
"y":{"field":"e","type":"quantitative","scale":{"domain":[0,105],"nice":false},"axis":{"orient":"right","values":[15,30,45,60,75,90],"tickSize":-7,"tickWidth":1.5,"labels":false,"domain":false,"grid":false,"title":null}}
},
"layer":[
{"data":{"name":"eli"},"mark":{"type":"line","strokeWidth":1.8},
"encoding":{"color":{"field":"s","type":"nominal","scale":{"domain":["α²F(ω)","λ(ω)"],"range":["#ff8c1a","#ff14ff"]},"legend":{"title":null,"orient":"none","legendX":46,"legendY":210,"symbolType":"M-3.8,0L3.8,0","symbolSize":100,"symbolStrokeWidth":2,"labelOffset":17,"rowPadding":5,"padding":0}},
"order":{"field":"e","type":"quantitative"}}},
{"data":{"values":[{"t":"(d)","v":0.297,"e":98.9}]},"mark":{"type":"text","fontSize":17},"encoding":{"text":{"field":"t"}}}
]
}
]
}
